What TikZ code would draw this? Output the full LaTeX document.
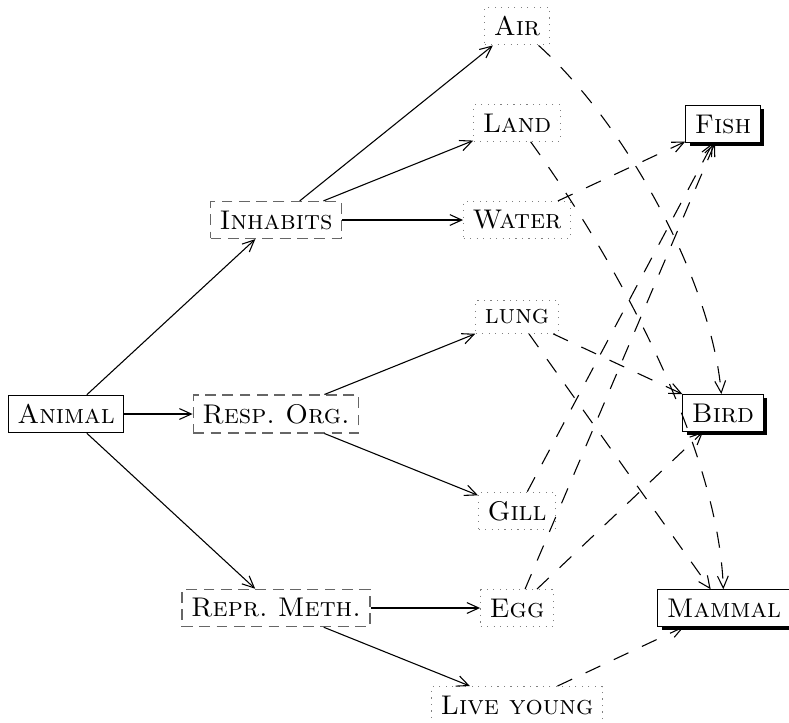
\documentclass[tikz,border=0pt]{standalone}
\usetikzlibrary{shadows,arrows.meta}
\begin{document}
\begin{tikzpicture}[x=0.37pt,y=-0.37pt,
  >={Straight Barb[length=4.4pt,width=4pt]},
  every node/.style={font=\scshape},
  rootbox/.style={draw},
  catbox/.style={draw=black!60, line width=0.5pt, dash pattern=on 4pt off 2.4pt},
  valbox/.style={draw=gray, dotted},
  classbox/.style={draw, fill=white,
    drop shadow={shadow xshift=1.4pt, shadow yshift=-1.4pt, fill=black, opacity=1}},
  tree/.style={->},
  link/.style={->, dash pattern=on 6pt off 5.5pt}]
\useasboundingbox (0,0) rectangle (789,723);

% root
\node[rootbox] (animal) at (66,414) {Animal};

% attribute categories
\node[catbox] (inhabits) at (276,220) {Inhabits};
\node[catbox] (resp)     at (276,414) {Resp.\ Org.};
\node[catbox] (repr)     at (276,608) {Repr.\ Meth.};

% attribute values
\node[valbox] (air)   at (517,26)  {Air};
\node[valbox] (land)  at (517,123) {Land};
\node[valbox] (water) at (517,220) {Water};
\node[valbox] (lung)  at (517,317) {lung};
\node[valbox] (gill)  at (517,511) {Gill};
\node[valbox] (egg)   at (517,608) {Egg};
\node[valbox] (live)  at (517,705) {Live young};

% classes
\node[classbox] (fish)   at (723,124) {Fish};
\node[classbox] (bird)   at (723,413) {Bird};
\node[classbox] (mammal) at (724,608) {Mammal};

% tree edges
\draw[tree] (animal) -- (inhabits);
\draw[tree] (animal) -- (resp);
\draw[tree] (animal) -- (repr);
\draw[tree] (inhabits) -- (air);
\draw[tree] (inhabits) -- (land);
\draw[tree] (inhabits) -- (water);
\draw[tree] (resp) -- (lung);
\draw[tree] (resp) -- (gill);
\draw[tree] (repr) -- (egg);
\draw[tree] (repr) -- (live);

% value-to-class links
\draw[link] (air) to[out=-42,in=95,looseness=0.75] (bird);
\draw[link] (land) to[out=-54,in=92,looseness=0.75] (mammal);
\draw[link] (water) -- (fish);
\draw[link] (lung) -- (bird);
\draw[link] (lung) -- (mammal);
\draw[link] (gill) -- (fish);
\draw[link] (egg) -- (fish);
\draw[link] (egg) -- (bird);
\draw[link] (live) -- (mammal);
\end{tikzpicture}
\end{document}
